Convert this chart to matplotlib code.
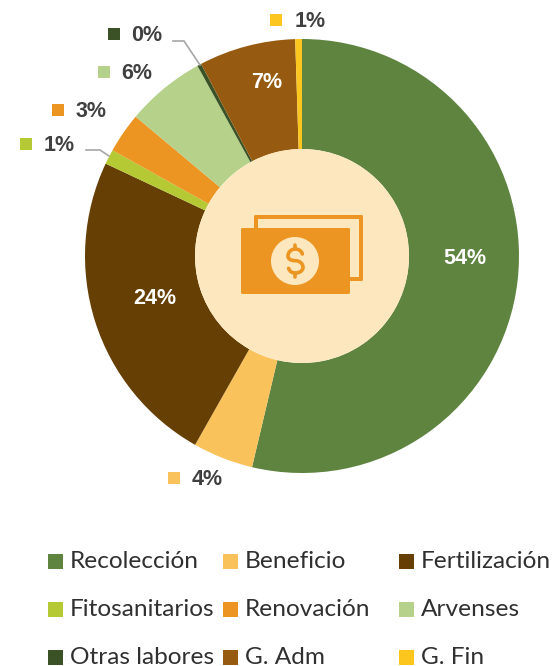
import matplotlib
matplotlib.use("Agg")
import matplotlib.pyplot as plt
from matplotlib.patches import Rectangle, Circle, FancyBboxPatch, PathPatch
from matplotlib.path import Path

W, H = 553, 666
categories = ["Recolección", "Beneficio", "Fertilización", "Fitosanitarios", "Renovación",
              "Arvenses", "Otras labores", "G. Adm", "G. Fin"]
values = [53.7, 4.5, 23.8, 1.1, 3.0, 5.9, 0.3, 7.2, 0.5]
value_labels = ["54%", "4%", "24%", "1%", "3%", "6%", "0%", "7%", "1%"]
colors = ["#5F8440", "#FAC25A", "#663F04", "#B5C934", "#EC9522",
          "#B5D18A", "#3A5225", "#965B10", "#FCC61E"]

CX, CY, R, RH = 302, 256, 217, 107
Y = lambda y: H - y

fig = plt.figure(figsize=(W / 100, H / 100), dpi=100, facecolor="white")
ax = fig.add_axes([0, 0, 1, 1])
ax.pie(values, colors=colors, startangle=90, counterclock=False, center=(CX, Y(CY)), radius=R,
       wedgeprops=dict(width=R - RH, linewidth=0))
ax.set_xlim(0, W)
ax.set_ylim(0, H)
ax.set_aspect("equal")
ax.axis("off")

# centre disc and money icon
HOLE = "#FDE7BE"
ICON = "#EC9522"
ax.add_patch(Circle((CX, Y(CY)), RH, fc=HOLE, ec="none", zorder=3))
def rrect(x0, y0, x1, y1, fc, z, ec="none", lw=0):
    ax.add_patch(FancyBboxPatch((x0 + 1, Y(y1) + 1), x1 - x0 - 2, y1 - y0 - 2,
                                boxstyle="round,pad=1,rounding_size=1.5", fc=fc, ec=ec, lw=lw, zorder=z))
rrect(254, 215, 363, 281, ICON, 4)
ax.add_patch(Rectangle((258, Y(277)), 101, 58, fc=HOLE, ec="none", zorder=4.5))
rrect(241, 228, 350, 294, ICON, 5)
ax.add_patch(Circle((295, Y(261)), 24, fc=HOLE, ec="none", zorder=6))

# dollar sign as a stroked outline
P = lambda zx, zy: (190 + zx / 3, Y(150 + zy / 3))
s_pts = [(337, 312), (335, 303), (326, 297), (316, 297), (304, 297), (294, 306), (294, 318),
         (294, 328), (304, 332), (316, 332), (329, 332), (339, 341), (339, 352),
         (339, 362), (329, 369), (316, 369), (305, 369), (298, 363), (296, 355)]
s_codes = [Path.MOVETO] + [Path.CURVE4] * (len(s_pts) - 1)
dollar = dict(fc="none", ec=ICON, lw=2.6, capstyle="round", zorder=7)
ax.add_patch(PathPatch(Path([P(*p) for p in s_pts], s_codes), **dollar))
ax.add_patch(PathPatch(Path([P(316, 284), P(316, 297)]), **dollar))
ax.add_patch(PathPatch(Path([P(316, 369), P(316, 382)]), **dollar))

# data labels: (text centre x, y), square centre for those outside the ring
label_font = dict(family="Liberation Sans", fontweight="bold", fontsize=15.5, va="center", ha="center")
inside = {0: (465, 258), 2: (155, 299), 7: (267, 82)}
for i, (x, y) in inside.items():
    ax.text(x, Y(y), value_labels[i], color="white", zorder=8, **label_font)
outside = {1: (174, 478, 207), 3: (26, 144, 59), 4: (58, 110, 91), 5: (104, 72, 137), 6: (114, 34, 147), 8: (276, 20, 310)}
for i, (sx, y, tx) in outside.items():
    ax.add_patch(Rectangle((sx - 6, Y(y + 6)), 12, 12, fc=colors[i], ec="none", zorder=8))
    ax.text(tx, Y(y + 1.5), value_labels[i], color="#404040", zorder=8, **label_font)

# leader lines
for xs, ys in [((173, 184, 200), (41, 41, 65)), ((86, 100, 109), (150, 150, 156))]:
    ax.plot(xs, [Y(v) for v in ys], color="#A6A6A6", lw=1.2, zorder=2.5, solid_joinstyle="miter")

# legend
col_x = [48, 223, 399]
row_y = [561.5, 609.5, 657.5]
for i, name in enumerate(categories):
    x, y = col_x[i % 3], row_y[i // 3]
    ax.add_patch(Rectangle((x, Y(y + 7.5)), 15, 15, fc=colors[i], ec="none"))
    ax.text(x + 22, Y(y + 0.5), name, color="#303030", family="Lato", fontsize=17.6, ha="left", va="center", clip_on=False)

fig.savefig("out.png", dpi=100, facecolor="white")
